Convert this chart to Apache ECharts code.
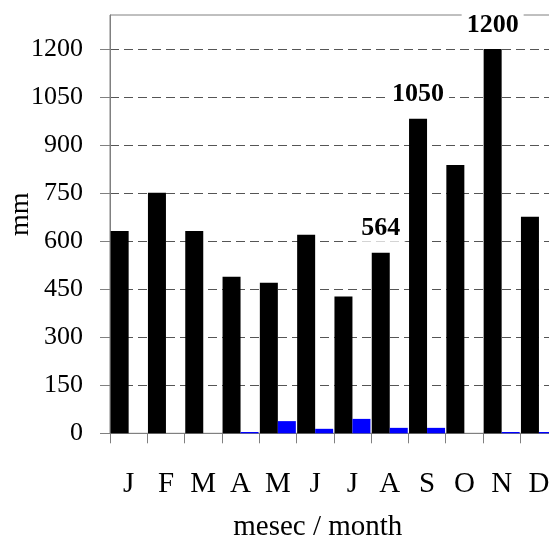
<!DOCTYPE html>
<html>
<head>
<meta charset="utf-8">
<script src="https://cdn.jsdelivr.net/npm/echarts@6/dist/echarts.min.js"></script>
<style>html,body{margin:0;padding:0;background:#fff}#c{width:549px;height:536px}</style>
</head>
<body>
<div id="c"></div>
<script>
var months = ['J','F','M','A','M','J','J','A','S','O','N','D'];
var seriesBlack = [632, 751, 632, 489, 470, 620, 427, 564, 982, 838, 1200, 676];
var seriesBlue = [0, 0, 0, 4, 38, 14, 45, 17, 17, 0, 4, 4];
var annotations = ['', '', '', '', '', '', '', '564', '1050', '', '1200', ''];
var yTicks = [0, 150, 300, 450, 600, 750, 900, 1050, 1200];

var font = 'Liberation Serif';
var chart = echarts.init(document.getElementById('c'), null, {renderer: 'canvas'});
chart.setOption({
  animation: false,
  backgroundColor: '#fff',
  grid: {left: 110, top: 15, right: -8.6, bottom: 102.7, show: true, borderColor: '#808080', borderWidth: 1,
         backgroundColor: 'transparent', containLabel: false, outerBoundsMode: 'none'},
  xAxis: {
    type: 'category',
    data: months,
    name: 'mesec / month',
    nameLocation: 'middle',
    nameGap: 80,
    nameMoveOverlap: false,
    nameTextStyle: {fontFamily: font, fontSize: 29, color: '#000', padding: [0, 32, 0, 0]},
    axisLine: {lineStyle: {color: '#808080'}},
    axisTick: {show: true, length: 10, lineStyle: {color: '#808080'}},
    axisLabel: {fontFamily: font, fontSize: 29, color: '#000', margin: 37, interval: 0}
  },
  yAxis: {
    type: 'value',
    min: 0, max: 1306, interval: 150,
    name: 'mm',
    nameLocation: 'middle',
    nameGap: 75,
    nameMoveOverlap: false,
    nameTextStyle: {fontFamily: font, fontSize: 28, color: '#000', padding: [0, 0, 0, 20]},
    axisLine: {show: true, lineStyle: {color: '#808080'}},
    axisTick: {show: true, length: 10, lineStyle: {color: '#808080'}, customValues: yTicks},
    axisLabel: {fontFamily: font, fontSize: 26, color: '#000', margin: 27, customValues: yTicks,
                formatter: function (v) { return String(v); }},
    splitLine: {show: true, lineStyle: {color: '#555', type: [9, 5], width: 1}}
  },
  series: [
    {
      type: 'bar',
      data: seriesBlack.map(function (v, i) {
        return {value: v, label: {show: annotations[i] !== ''}};
      }),
      barWidth: 18,
      barGap: '0%',
      itemStyle: {color: '#000'},
      label: {
        position: 'top',
        distance: 11,
        fontFamily: font, fontSize: 26, fontWeight: 'bold', color: '#000',
        backgroundColor: '#fff', padding: [0, 5],
        formatter: function (p) { return annotations[p.dataIndex]; }
      }
    },
    {
      type: 'bar',
      data: seriesBlue,
      barWidth: 18,
      barGap: '0%',
      itemStyle: {color: '#0000ff'}
    }
  ]
});
</script>
</body>
</html>
